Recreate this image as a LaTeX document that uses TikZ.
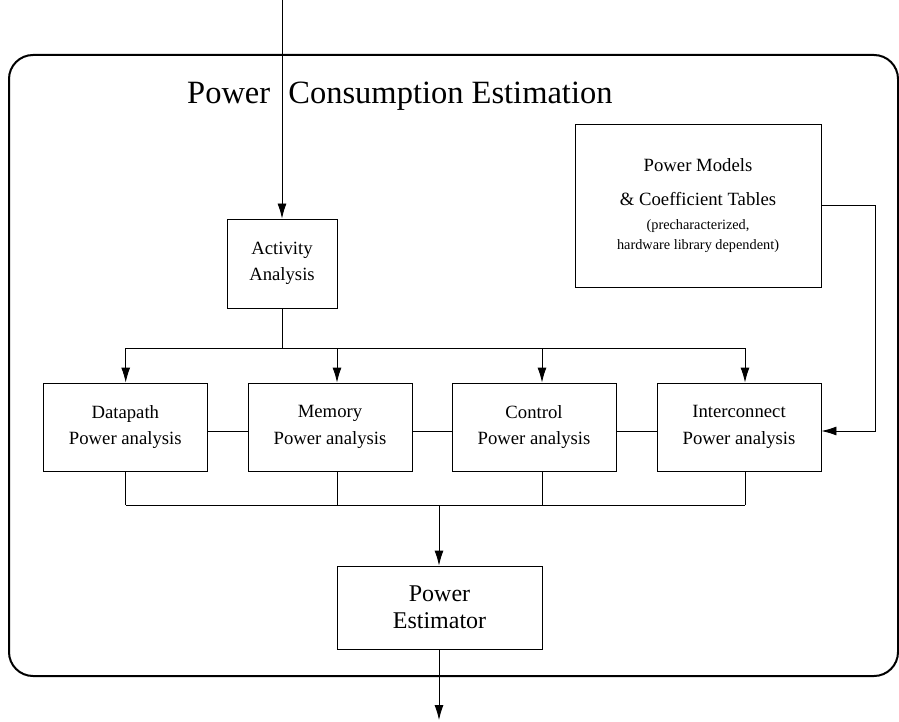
\documentclass[tikz,border=0pt]{standalone}
\usepackage{fontspec}
\setmainfont{Liberation Serif}
\usetikzlibrary{arrows.meta,positioning,calc}

\newcommand{\titlefont}{\fontsize{32.5}{38}\selectfont}
\newcommand{\boxfont}{\fontsize{18.7}{26.5}\selectfont}
\newcommand{\estfont}{\fontsize{24}{27}\selectfont}
\newcommand{\notefont}{\fontsize{14.3}{20}\selectfont}

\begin{document}
\begin{tikzpicture}[x=1pt, y=-1pt, >={Latex[length=15pt,width=9pt]}]
% Define styles for the boxes and lines
\tikzstyle{block} = [rectangle, draw, line width=0.9pt, align=center, inner sep=0pt, font=\boxfont]
\tikzstyle{unit} = [block, minimum width=164pt, minimum height=88pt]
\tikzstyle{line} = [draw, line width=0.9pt]
\tikzstyle{arrow} = [line, ->]
\tikzstyle{frame} = [draw, line width=2pt, rounded corners=24pt]

\useasboundingbox (0,0) rectangle (899,722);

% Outer frame and title
\draw [frame] (9,55) rectangle (898,676);
\node [font=\titlefont, anchor=base west, inner sep=0pt] (title) at (187,104) {Power\hspace{0.56em}Consumption Estimation};

% Place nodes
\node [block, minimum width=110pt, minimum height=89pt] (act) at (282,263.5) {Activity\\Analysis};
\node [unit] (dp) at (125.3,427) {Datapath\\Power analysis};
\node [unit] (mem) at (330,427) {Memory\\Power analysis};
\node [unit] (ctl) at (534,427) {Control\\Power analysis};
\node [unit] (ic) at (739,427) {Interconnect\\Power analysis};
\node [block, font=\estfont, minimum width=205pt, minimum height=83pt] (est) at (439.5,607.5) {Power\\Estimator};
\node [block, font=\notefont, minimum width=246pt, minimum height=163pt] (pm) at (698,205.5)
  {{\boxfont Power Models}\\[14pt]{\boxfont \& Coefficient Tables}\\[4pt](precharacterized,\\hardware library dependent)};

\coordinate (in) at (282,0);
\coordinate (out) at (439,720);
\coordinate (bus) at (282,348);
\coordinate (sum) at (439,505);
\coordinate (side) at (875,205);

% Connect nodes
\draw [arrow] (in) -- (act);
\draw [line] (act) -- (act |- bus);
\draw [line] ([xshift=0.4pt]dp.north |- bus) -- ([xshift=6pt]ic.north |- bus);
\draw [line] ([xshift=0.4pt]dp.south |- sum) -- ([xshift=6pt]ic.south |- sum);
\foreach \b/\s in {dp/0.4, mem/7, ctl/8, ic/6} {
  \draw [arrow] ([xshift=\s pt]\b.north |- bus) -- ([xshift=\s pt]\b.north);
  \draw [line] ([xshift=\s pt]\b.south) -- ([xshift=\s pt]\b.south |- sum);
}
\foreach \a/\b in {dp/mem, mem/ctl, ctl/ic}
  \draw [line] ([yshift=-4pt]\a.east) -- ([yshift=-4pt]\b.west);
\draw [arrow] (sum) -- (sum |- est.north);
\draw [arrow] (est.south -| out) -- (out);
\draw [arrow] (pm.east |- side) -- (side) -- (side |- 0,431) -- ([yshift=-4pt]ic.east);

\end{tikzpicture}
\end{document}
